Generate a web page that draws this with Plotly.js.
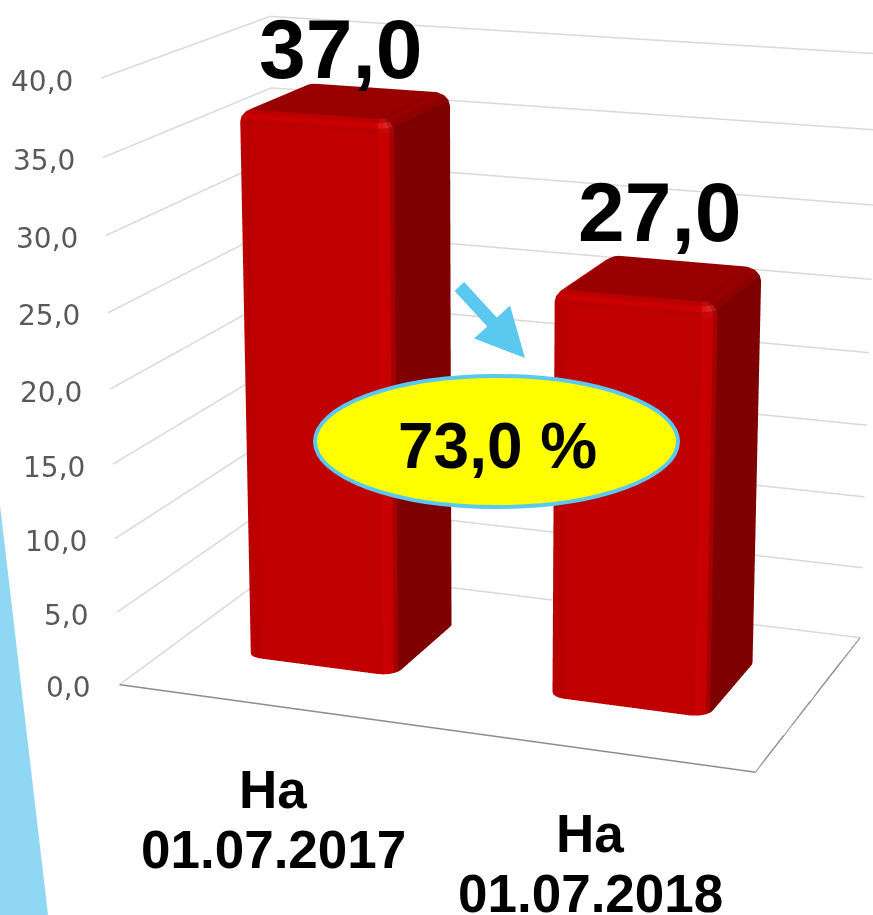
<!DOCTYPE html>
<html><head><meta charset="utf-8">
<script src="https://cdn.plot.ly/plotly-3.0.1.min.js"></script>
<style>html,body{margin:0;padding:0;background:#fff;overflow:hidden;width:873px;height:915px;position:relative}
#c{position:absolute;left:-812px;top:-1002px;width:2619px;height:2745px}</style>
</head><body><div id="c"></div>
<script>
const categoryPrefix = ['На','На'];
const categoryDates = ['01.07.2017','01.07.2018'];
const values = [37.0, 27.0];
const valueLabels = ['37,0','27,0'];
const zTicks = [0,5,10,15,20,25,30,35,40];
const zTickLabels = ['0,0','5,0','10,0','15,0','20,0','25,0','30,0','35,0','40,0'];
const ratioLabel = '73,0 %';

const W=2619,H=2745,LEFT=-812,TOP=-1002;
const px=x=>(x-LEFT)/W, py=y=>1-(y-TOP)/H;

const halfW=0.25, y0=0.30, y1=0.75, rx=0.055, ry=0.05, rz=0.9;
const xc=[0.502,1.498];
const valueDx=[-5,1], valueDy=[51,65], catDx=[2,3];

function shade(n){
  const wf=Math.max(0,-n[1])**2, wb=Math.max(0,n[1])**2, wr=Math.max(0,n[0])**2, wl=Math.max(0,-n[0])**2, wt=Math.max(0,n[2])**2;
  let r=wf*0xC0+wl*0xC0+wb*0x99+wr*0x7F+wt*0x99+4*wf*wr*44+4*wf*wt*36+4*wl*wt*36+4*wr*wt*14+27*wf*wr*wt*40;
  let g=27*wf*wr*wt*40;
  return 'rgb('+Math.round(Math.min(255,r))+','+Math.round(g)+','+Math.round(g)+')';
}
function barMesh(xm,h){
  const NA=5,NB=4,corners=[[1,-1,-Math.PI/2],[1,1,0],[-1,1,Math.PI/2],[-1,-1,Math.PI]];
  const X=[],Y=[],Z=[],I=[],J=[],K=[],F=[],N=[];
  const cx=[xm+halfW-rx,xm+halfW-rx,xm-halfW+rx,xm-halfW+rx], cy=[y0+ry,y1-ry,y1-ry,y0+ry];
  for(let k=-1;k<=NB;k++){
    const phi=k<0?0:k/NB*Math.PI/2, z=k<0?0:h-rz+rz*Math.sin(phi), c=Math.cos(phi);
    corners.forEach((cr,q)=>{
      for(let a=0;a<=NA;a++){
        const th=cr[2]+a/NA*Math.PI/2;
        X.push(cx[q]+rx*Math.cos(th)*c);Y.push(cy[q]+ry*Math.sin(th)*c);Z.push(z);
        N.push([Math.cos(th)*c,Math.sin(th)*c,Math.sin(phi)]);
      }
    });
  }
  const perRing=4*(NA+1), rings=NB+2;
  for(let r=0;r<rings-1;r++)for(let j=0;j<perRing;j++){
    const a=r*perRing+j,b=r*perRing+(j+1)%perRing,c=(r+1)*perRing+(j+1)%perRing,d=(r+1)*perRing+j;
    const nm=[0,1,2].map(i=>(N[a][i]+N[b][i]+N[c][i]+N[d][i])/4);
    const col=shade(nm);
    I.push(a,a);J.push(b,c);K.push(c,d);F.push(col,col);
  }
  const base=(rings-1)*perRing;
  for(let j=1;j<perRing-1;j++){I.push(base);J.push(base+j);K.push(base+j+1);F.push(shade([0,0,1]));}
  return {type:'mesh3d',x:X,y:Y,z:Z,i:I,j:J,k:K,facecolor:F,flatshading:true,
    lighting:{ambient:1,diffuse:0,specular:0,roughness:1,fresnel:0},hoverinfo:'skip',showscale:false};
}
const gridTraces=zTicks.map(t=>({type:'scatter3d',mode:'lines',x:[0,0,2+t*0.001],y:[0,1,1],z:[t,t,t],
  line:{color:'#D9D9D9',width:3},hoverinfo:'skip'}));
const floorFront={type:'scatter3d',mode:'lines',x:[0,2],y:[0,0],z:[0,0],line:{color:'#8C8C8C',width:3},hoverinfo:'skip'};
const floorRight={type:'scatter3d',mode:'lines',x:[2,2,2,2,2],y:[0,0.25,0.5,0.75,1],z:[0.02,0.02,0.02,0.02,0.02],line:{color:'#8C8C8C',width:3},hoverinfo:'skip'};
const traces=[...gridTraces,floorFront,floorRight,...values.map((v,i)=>barMesh(xc[i],v))];

const dir=[0.335,-0.905,0.263], d=2.0;
const hidden={showgrid:false,showline:false,zeroline:false,showticklabels:false,ticks:'',title:{text:''},showbackground:false,showspikes:false};
const layout={
  width:W,height:H,margin:{l:0,r:0,t:0,b:0},paper_bgcolor:'#fff',showlegend:false,
  font:{family:'Liberation Sans, Arial, sans-serif'},
  scene:{domain:{x:[0,1],y:[0,1]},aspectmode:'manual',aspectratio:{x:0.40,y:0.2385,z:0.372},
    camera:{eye:{x:d*dir[0],y:d*dir[1],z:d*dir[2]},center:{x:0,y:0,z:0},up:{x:-0.092,y:0.246,z:0.965}},
    xaxis:{...hidden,range:[0,2]},
    yaxis:{...hidden,range:[0,1],showline:true,linecolor:'#8C8C8C',linewidth:2},
    zaxis:{...hidden,range:[0,40]},
    annotations:[
      ...zTicks.map((t,i)=>({x:0,y:0,z:t,text:zTickLabels[i],showarrow:false,xanchor:'right',xshift:-26,yshift:-3,font:{family:'DejaVu Sans',size:28,color:'#595959'}})),
      ...values.map((v,i)=>({x:xc[i],y:(y0+y1)/2,z:v,text:'<b>'+valueLabels[i]+'</b>',showarrow:false,xshift:valueDx[i],yshift:valueDy[i],font:{family:'Liberation Sans',size:84,color:'#000'}})),
      ...categoryPrefix.map((c,i)=>({x:xc[i],y:0,z:0,text:'<b>'+c+'</b>',showarrow:false,xshift:catDx[i],yshift:-84,font:{family:'Liberation Sans',size:53,color:'#000'}})),
      ...categoryDates.map((c,i)=>({x:xc[i],y:0,z:0,text:'<b>'+c+'</b>',showarrow:false,xshift:catDx[i],yshift:-144,font:{family:'Liberation Sans',size:53,color:'#000'}}))
    ]
  },
  shapes:[
    {type:'path',xref:'paper',yref:'paper',path:`M ${px(0)} ${py(505)} L ${px(48)} ${py(915)} L ${px(0)} ${py(915)} Z`,fillcolor:'#8FD7F3',line:{width:0}},
    {type:'circle',xref:'paper',yref:'paper',x0:px(315),x1:px(678),y0:py(507),y1:py(376),fillcolor:'#FFFF00',line:{color:'#5BC8F0',width:4}}
  ],
  annotations:[
    {xref:'paper',yref:'paper',x:px(497),y:py(446),text:'<b>'+ratioLabel+'</b>',showarrow:false,font:{family:'Liberation Sans',size:64,color:'#000'}},
    {xref:'paper',yref:'paper',x:px(525),y:py(358),text:'',showarrow:true,ax:-67,ay:-73,arrowcolor:'#5BC8F0',arrowwidth:13,arrowhead:2,arrowsize:0.75}
  ]
};
Plotly.newPlot('c',traces,layout,{displayModeBar:false});
</script></body></html>
